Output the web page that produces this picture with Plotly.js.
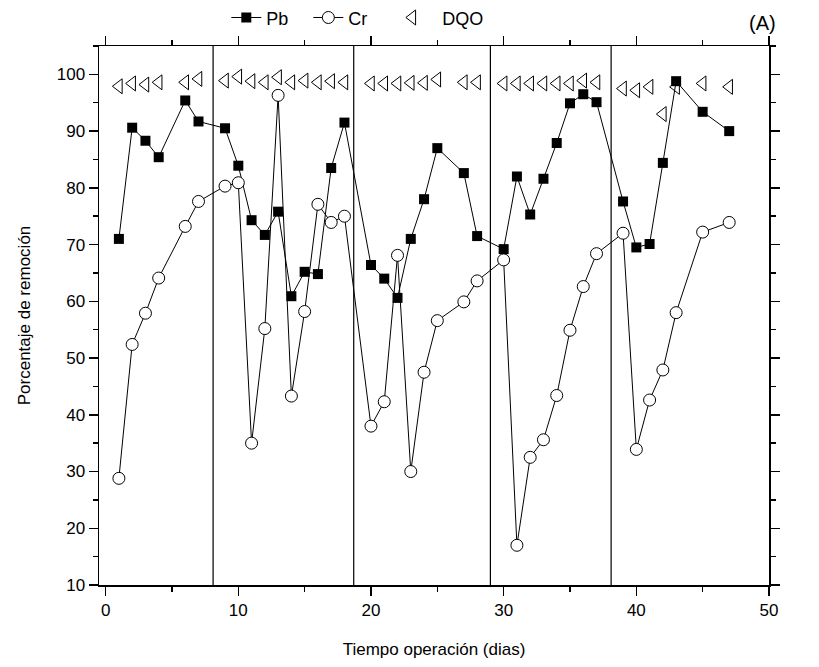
<!DOCTYPE html>
<html>
<head>
<meta charset="utf-8">
<script src="https://cdn.plot.ly/plotly-3.0.1.min.js"></script>
<style>html,body{margin:0;padding:0;background:#fff}#chart{width:819px;height:667px}</style>
</head>
<body>
<div id="chart"></div>
<script>
var days = [1,2,3,4,6,7,9,10,11,12,13,14,15,16,17,18,20,21,22,23,24,25,27,28,30,31,32,33,34,35,36,37,39,40,41,42,43,45,47];
var pb = [71.0,90.6,88.3,85.4,95.4,91.7,90.5,83.9,74.3,71.7,75.8,60.9,65.2,64.8,83.5,91.5,66.4,64.0,60.6,71.0,78.0,87.0,82.6,71.5,69.2,82.0,75.3,81.6,87.9,94.9,96.5,95.1,77.6,69.5,70.1,84.4,98.8,93.4,90.0];
var cr = [28.8,52.4,57.9,64.1,73.2,77.6,80.3,80.9,35.0,55.2,96.3,43.3,58.2,77.1,73.9,75.0,38.0,42.3,68.1,30.0,47.5,56.6,59.9,63.6,67.3,17.0,32.5,35.6,43.4,54.9,62.6,68.4,72.0,33.9,42.6,47.9,58.0,72.2,73.9];
var dqo = [97.9,98.4,98.2,98.6,98.6,99.2,98.9,99.6,98.8,98.6,99.5,98.6,98.9,98.6,98.8,98.6,98.4,98.4,98.4,98.5,98.5,99.1,98.6,98.6,98.4,98.4,98.4,98.4,98.4,98.4,98.9,98.6,97.5,97.2,97.8,93.0,97.8,98.4,97.8];
var stageLines = [8.1, 18.7, 29.0, 38.1];
var seriesNames = ['Pb', 'Cr', 'DQO'];

var font = 'Arial, "Liberation Sans", sans-serif';
var pad = '\u00a0\u00a0\u00a0';

var traces = [
  {x: days, y: pb, name: seriesNames[0] + pad, type: 'scatter', mode: 'lines+markers',
   line: {color: '#000', width: 1},
   marker: {symbol: 'square', size: 10, color: '#000', line: {color: '#000', width: 0}}},
  {x: days, y: cr, name: seriesNames[1] + pad + '\u00a0', type: 'scatter', mode: 'lines+markers',
   line: {color: '#000', width: 1},
   marker: {symbol: 'circle', size: 12, color: '#fff', line: {color: '#000', width: 1}}},
  {x: days, y: dqo, name: '\u00a0\u00a0' + seriesNames[2], type: 'scatter', mode: 'markers',
   marker: {symbol: 'triangle-left-open', size: 13, color: '#000', line: {color: '#000', width: 1}}}
];

var shapes = stageLines.map(function (v) {
  return {type: 'line', xref: 'x', yref: 'y', x0: v, x1: v, y0: 10, y1: 105,
          line: {color: '#000', width: 1.2}};
});

var axisCommon = {
  showgrid: false, zeroline: false, showline: true, linecolor: '#000', linewidth: 1.5,
  mirror: 'ticks', ticks: 'outside', ticklen: 9, tickwidth: 1.5, tickcolor: '#000',
  tickfont: {family: font, size: 17, color: '#000'}
};

var layout = {
  width: 819, height: 667,
  margin: {l: 99, r: 50, t: 46, b: 82, autoexpand: false},
  paper_bgcolor: '#fff', plot_bgcolor: '#fff',
  font: {family: font, size: 17, color: '#000'},
  showlegend: true,
  legend: {orientation: 'h', x: 0.19, xanchor: 'left', y: 1.018, yanchor: 'bottom',
           font: {family: font, size: 18, color: '#000'}, bgcolor: 'rgba(0,0,0,0)',
           itemwidth: 30, tracegroupgap: 0},
  xaxis: Object.assign({}, axisCommon, {
    range: [-0.5, 50], tickvals: [0, 10, 20, 30, 40, 50], ticktext: ['0','10','20','30','40','50'],
    minor: {dtick: 5, tick0: 0, ticks: 'outside', ticklen: 5, tickwidth: 1.5, tickcolor: '#000'},
    title: {text: 'Tiempo operación (dias)', font: {family: font, size: 17, color: '#000'}, standoff: 24}
  }),
  yaxis: Object.assign({}, axisCommon, {
    range: [10, 105], tickvals: [10,20,30,40,50,60,70,80,90,100],
    minor: {dtick: 5, tick0: 0, ticks: 'outside', ticklen: 5, tickwidth: 1.5, tickcolor: '#000'},
    title: {text: 'Porcentaje de remoción', font: {family: font, size: 17, color: '#000'}, standoff: 22}
  }),
  shapes: shapes,
  annotations: [{text: '(A)', xref: 'paper', yref: 'paper', x: 1.0, y: 1.0, xanchor: 'left', yanchor: 'bottom',
                 yshift: 10, xshift: -22, showarrow: false, font: {family: font, size: 20, color: '#000'}}]
};

Plotly.newPlot('chart', traces, layout, {displayModeBar: false, staticPlot: true});
</script>
</body>
</html>
